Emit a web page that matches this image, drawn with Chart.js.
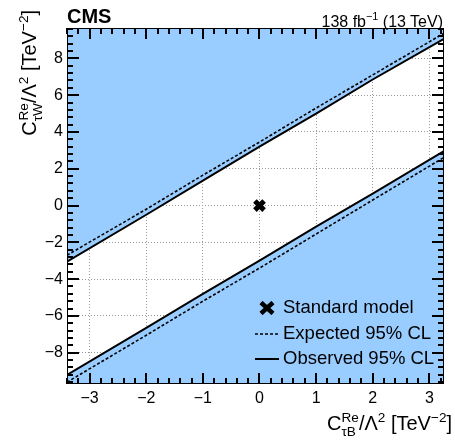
<!DOCTYPE html>
<html>
<head>
<meta charset="utf-8">
<script src="https://cdn.jsdelivr.net/npm/chart.js@4.4.0/dist/chart.umd.min.js"></script>
<style>
    body { margin: 0; background: #fff; }
    #wrap { position: relative; width: 455px; height: 440px; font-family: 'Liberation Sans', Arial, sans-serif; color: #000; }
    #wrap canvas { position: absolute; left: 0; top: 0; }
    .txt { position: absolute; white-space: nowrap; line-height: 1; }
    .ss { display: inline-flex; flex-direction: column; font-size: 0.68em; line-height: 1; vertical-align: 0.62em; }
    .up { font-size: 0.68em; vertical-align: 0.62em; }
    .cms { left: 67px; top: 6px; font-size: 20px; font-weight: bold; }
    .lumi { right: 12px; top: 11px; font-size: 16px; }
    .xtitle { right: 3px; top: 411px; font-size: 20px; }
    .ytitle { left: 17px; top: 210px; width: 200px; text-align: right; font-size: 20px; transform: rotate(-90deg); transform-origin: 0 0; }
    .leg { position: absolute; left: 255px; font-size: 18.5px; line-height: 22px; white-space: nowrap; }
    .leg svg { vertical-align: middle; margin-right: 4px; }
</style>
</head>
<body>
<div id="wrap">
    <canvas id="limitChart" width="455" height="440"></canvas>
    <div class="txt cms">CMS</div>
    <div class="txt lumi">138 fb<span class="up">&minus;1</span> (13 TeV)</div>
    <div class="txt xtitle">C<span class="ss"><span>Re</span><span>&tau;B</span></span>/&Lambda;<span class="up">2</span> [TeV<span class="up">&minus;2</span>]</div>
    <div class="txt ytitle">C<span class="ss"><span>Re</span><span>&tau;W</span></span>/&Lambda;<span class="up">2</span> [TeV<span class="up">&minus;2</span>]</div>
    <div class="leg" style="top:296px"><svg width="24" height="14"><path d="M6 1.5L18 12.5M18 1.5L6 12.5" stroke="#000" stroke-width="4.5"></path></svg>Standard model</div>
    <div class="leg" style="top:322px"><svg width="24" height="14"><line x1="0" y1="7" x2="24" y2="7" stroke="#000" stroke-width="1.6" stroke-dasharray="3 2"></line></svg>Expected 95% CL</div>
    <div class="leg" style="top:347px"><svg width="24" height="14"><line x1="0" y1="7" x2="24" y2="7" stroke="#000" stroke-width="2"></line></svg>Observed 95% CL</div>
</div>
<script>
var xPoints = [-3.4, -2, -1, 0, 1, 2, 3.25];

// observed and expected 95% CL contours (C_tauW), two branches each
var obsUpper = [-3.05, -0.5, 1.35, 3.2, 5.0, 6.85, 9.05];
var expUpper = [-2.7, -0.2, 1.65, 3.45, 5.3, 7.1, 9.35];
var obsLower = [-9.2, -6.65, -4.8, -3.0, -1.15, 0.65, 2.95];
var expLower = [-9.6, -7.05, -5.2, -3.4, -1.55, 0.3, 2.6];

// standard model point
var smX = [0];
var smY = [0];

var blue = 'rgb(153, 204, 255)';
var fontFamily = "'Liberation Sans', Arial, sans-serif";

function toPoints(xs, ys) {
    var out = [];
    for (var i = 0; i < xs.length; i++) {
        out.push({ x: xs[i], y: ys[i] });
    }
    return out;
}

function tickLabel(value) {
    if (value < 0) {
        return '\u2212' + Math.abs(value);
    }
    return '' + value;
}

// ROOT style frame: box around the plot plus inward ticks on all four sides
var frameTicks = {
    id: 'frameTicks',
    afterDraw: function (chart) {
        var c = chart.ctx;
        var a = chart.chartArea;
        var xs = chart.scales.x;
        var ys = chart.scales.y;
        var left = Math.round(a.left);
        var right = Math.round(a.right);
        var top = Math.round(a.top);
        var bottom = Math.round(a.bottom);
        var k, p, len;

        c.save();
        c.fillStyle = '#000';

        for (k = Math.ceil(xs.min * 5); k <= Math.floor(xs.max * 5); k++) {
            p = Math.round(xs.getPixelForValue(k / 5));
            len = (k % 5 === 0) ? 11 : 6;
            c.fillRect(p - 1, bottom - len, 2, len);
            c.fillRect(p - 1, top, 2, len);
        }

        for (k = Math.ceil(ys.min / 0.4); k <= Math.floor(ys.max / 0.4); k++) {
            p = Math.round(ys.getPixelForValue(k * 0.4));
            len = (k % 5 === 0) ? 12 : 6;
            c.fillRect(left, p - 1, len, 2);
            c.fillRect(right - len, p - 1, len, 2);
        }

        c.fillRect(left, top, right - left, 1);
        c.fillRect(left, bottom - 1, right - left, 1);
        c.fillRect(left, top, 1, bottom - top);
        c.fillRect(right - 1, top, 1, bottom - top);
        c.restore();
    }
};

var ctx = document.getElementById('limitChart').getContext('2d');

new Chart(ctx, {
    type: 'scatter',
    data: {
        datasets: [
            {
                label: 'Standard model',
                data: toPoints(smX, smY),
                pointStyle: 'crossRot',
                pointRadius: 6.5,
                borderWidth: 5,
                borderColor: '#000',
                backgroundColor: '#000',
                order: 0
            },
            {
                label: 'Expected 95% CL',
                data: toPoints(xPoints, expUpper),
                showLine: true,
                borderColor: '#000',
                borderWidth: 1.6,
                borderDash: [3, 2],
                pointRadius: 0,
                fill: false,
                order: 1
            },
            {
                label: 'Expected 95% CL (lower)',
                data: toPoints(xPoints, expLower),
                showLine: true,
                borderColor: '#000',
                borderWidth: 1.6,
                borderDash: [3, 2],
                pointRadius: 0,
                fill: false,
                order: 1
            },
            {
                label: 'Observed 95% CL',
                data: toPoints(xPoints, obsUpper),
                showLine: true,
                borderColor: '#000',
                borderWidth: 2,
                backgroundColor: blue,
                pointRadius: 0,
                fill: 'end',
                order: 2
            },
            {
                label: 'Observed 95% CL (lower)',
                data: toPoints(xPoints, obsLower),
                showLine: true,
                borderColor: '#000',
                borderWidth: 2,
                backgroundColor: blue,
                pointRadius: 0,
                fill: 'start',
                order: 2
            }
        ]
    },
    options: {
        responsive: false,
        animation: false,
        layout: {
            padding: { top: 28, right: 3, left: 0, bottom: 0 }
        },
        plugins: {
            legend: { display: false },
            tooltip: { enabled: false }
        },
        scales: {
            x: {
                type: 'linear',
                min: -3.4,
                max: 3.25,
                afterFit: function (scale) { scale.height = 56; },
                ticks: {
                    stepSize: 1,
                    includeBounds: false,
                    padding: 5,
                    maxRotation: 0,
                    color: '#000',
                    font: { size: 16, family: fontFamily },
                    callback: tickLabel
                },
                grid: { color: '#999', lineWidth: 1, drawTicks: false },
                border: { display: false, dash: [1, 2] }
            },
            y: {
                type: 'linear',
                min: -9.7,
                max: 9.65,
                afterFit: function (scale) { scale.width = 67; },
                ticks: {
                    stepSize: 2,
                    includeBounds: false,
                    padding: 4,
                    color: '#000',
                    font: { size: 16, family: fontFamily },
                    callback: tickLabel
                },
                grid: { color: '#999', lineWidth: 1, drawTicks: false },
                border: { display: false, dash: [1, 2] }
            }
        }
    },
    plugins: [frameTicks]
});
</script>
</body>
</html>
